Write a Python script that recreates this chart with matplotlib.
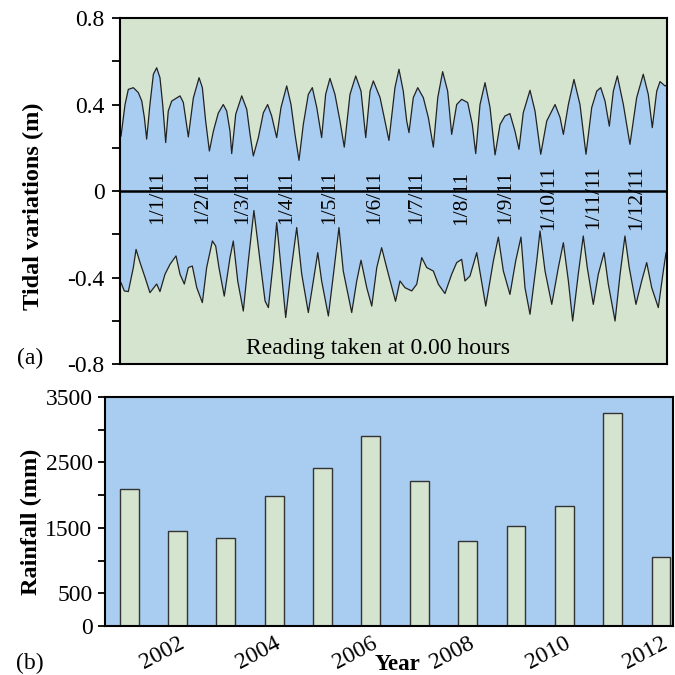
import numpy as np
import matplotlib
matplotlib.use("Agg")
import matplotlib.pyplot as plt
from matplotlib.ticker import FixedLocator

plt.rcParams['font.family'] = ['Liberation Serif', 'DejaVu Serif']
plt.rcParams['axes.unicode_minus'] = False

# ---- (a) tidal record: envelope (day of record, metres)
up_day = [0.7, 3.5, 5.8, 9.3, 12.8, 15.2, 17.0, 18.6, 20.9, 23.3, 25.6, 27.9, 29.8,
          31.9, 33.7, 36.1, 41.9, 44.2, 46.1, 47.7, 51.2, 55.2, 57.5, 59.8, 62.4,
          65.2, 68.6, 72.1, 74.5, 76.8, 78.0, 80.8, 85.0, 88.5, 90.8, 93.1, 96.6,
          100.1, 103.1, 105.9, 109.4, 112.4, 116.4, 119.4, 122.2, 125.0, 128.0, 131.5,
          134.3, 137.4, 140.8, 143.6, 146.6, 150.1, 153.6, 156.6, 160.6, 164.6, 168.3,
          171.6, 174.6, 176.9, 181.6, 185.0, 187.8, 192.0, 194.8, 197.8, 200.2, 201.8,
          204.8, 207.9, 211.8, 215.3, 218.8, 221.9, 225.3, 228.8, 231.6, 235.1, 238.6,
          242.8, 246.0, 248.4, 251.4, 254.9, 258.4, 261.9, 265.4, 268.8, 272.3, 275.8,
          278.6, 281.6, 286.3, 289.8, 293.8, 298.0, 303.8, 307.3, 309.6, 313.1, 317.0,
          321.2, 325.4, 329.4, 332.9, 335.7, 338.7, 341.7, 344.5, 347.3, 351.5, 356.1,
          360.8, 365.4, 368.9, 371.7, 374.8, 377.1, 380.6, 382.0]
up_val = [0.254, 0.40, 0.47, 0.478, 0.455, 0.416, 0.34, 0.24, 0.40, 0.54, 0.57, 0.524, 0.40,
          0.224, 0.37, 0.416, 0.44, 0.41, 0.324, 0.25, 0.43, 0.524, 0.478, 0.324, 0.185,
          0.277, 0.36, 0.40, 0.37, 0.277, 0.173, 0.355, 0.44, 0.378, 0.262, 0.162, 0.247,
          0.362, 0.40, 0.347, 0.247, 0.386, 0.486, 0.40, 0.262, 0.142, 0.308, 0.447,
          0.478, 0.386, 0.247, 0.447, 0.521, 0.447, 0.324, 0.203, 0.447, 0.532, 0.462,
          0.247, 0.462, 0.509, 0.432, 0.324, 0.234, 0.478, 0.563, 0.462, 0.324, 0.27,
          0.432, 0.478, 0.432, 0.34, 0.203, 0.432, 0.552, 0.462, 0.262, 0.40, 0.424,
          0.409, 0.308, 0.173, 0.40, 0.501, 0.386, 0.167, 0.308, 0.347, 0.358, 0.277,
          0.193, 0.362, 0.466, 0.37, 0.17, 0.324, 0.40, 0.34, 0.262, 0.40, 0.516,
          0.40, 0.17, 0.386, 0.462, 0.478, 0.416, 0.30, 0.462, 0.532, 0.40, 0.216,
          0.432, 0.54, 0.447, 0.293, 0.462, 0.506, 0.486, 0.49]

lo_day = [0.7, 3.0, 5.8, 9.3, 11.2, 14.0, 17.5, 20.9, 25.6, 27.9, 31.4, 34.9, 39.1,
          41.9, 44.9, 47.7, 50.5, 53.6, 57.5, 60.5, 64.5, 66.8, 69.1, 72.8, 76.8,
          79.1, 82.2, 86.1, 89.6, 93.5, 97.8, 101.3, 103.6, 107.1, 109.4, 112.4, 115.7,
          119.4, 123.4, 126.9, 131.5, 135.0, 138.1, 140.8, 145.5, 149.6, 152.9, 155.9,
          161.8, 165.3, 168.3, 172.3, 175.8, 179.3, 182.7, 186.2, 192.4, 195.5, 199.0,
          203.7, 207.2, 210.7, 214.2, 218.8, 222.3, 226.9, 231.6, 235.1, 238.6, 240.9,
          244.4, 249.1, 255.4, 260.7, 264.2, 267.7, 272.3, 276.3, 280.0, 282.8, 286.3,
          291.0, 293.3, 296.8, 301.5, 306.1, 309.6, 313.1, 316.1, 320.0, 323.5, 326.3,
          330.5, 334.0, 338.0, 341.0, 345.7, 349.2, 352.6, 355.6, 360.3, 364.3, 367.8,
          371.3, 375.9, 379.4, 381.3, 382.0]
lo_val = [-0.424, -0.462, -0.465, -0.354, -0.27, -0.331, -0.40, -0.47, -0.43, -0.465, -0.385, -0.339, -0.30,
          -0.385, -0.43, -0.354, -0.347, -0.447, -0.516, -0.354, -0.231, -0.254, -0.354, -0.486, -0.308,
          -0.231, -0.416, -0.555, -0.324, -0.09, -0.324, -0.509, -0.539, -0.324, -0.146, -0.354, -0.585,
          -0.37, -0.169, -0.385, -0.562, -0.416, -0.285, -0.416, -0.578, -0.354, -0.169, -0.37,
          -0.562, -0.416, -0.32, -0.447, -0.532, -0.354, -0.262, -0.354, -0.51, -0.416, -0.447,
          -0.462, -0.431, -0.308, -0.354, -0.37, -0.431, -0.474, -0.385, -0.331, -0.316, -0.416,
          -0.393, -0.285, -0.532, -0.324, -0.213, -0.37, -0.478, -0.324, -0.213, -0.447, -0.57,
          -0.324, -0.185, -0.37, -0.524, -0.354, -0.239, -0.416, -0.601, -0.385, -0.208, -0.354,
          -0.524, -0.385, -0.285, -0.431, -0.601, -0.385, -0.208, -0.354, -0.524, -0.416, -0.331,
          -0.447, -0.539, -0.37, -0.285, -0.28]

month_labels = ['1/1/11', '1/2/11', '1/3/11', '1/4/11', '1/5/11', '1/6/11',
                '1/7/11', '1/8/11', '1/9/11', '1/10/11', '1/11/11', '1/12/11']
month_start = [0, 31, 59, 90, 120, 151, 181, 212, 243, 273, 304, 334]
tide_ticks = [0.8, 0.4, 0, -0.4, -0.8]
tide_ticklabels = ['0.8', '0.4', '0', '-0.4', '-0.8']

# ---- (b) annual rainfall
years = [2001, 2002, 2003, 2004, 2005, 2006, 2007, 2008, 2009, 2010, 2011, 2012]
rain = [2100, 1450, 1350, 1990, 2410, 2900, 2210, 1300, 1530, 1830, 3250, 1050]
rain_ticks = [3500, 2500, 1500, 500, 0]
year_ticks = [2002, 2004, 2006, 2008, 2010, 2012]

green = '#d5e4cf'
blue = '#a9cdf1'
day0 = 26.5   # record starts ~26 days before 1 Jan

fig = plt.figure(figsize=(6.75, 6.75), dpi=100)

# top panel
ax = fig.add_axes([0.1778, 0.4607, 0.8104, 0.5126])
ax.set_facecolor(green)
poly_x = np.concatenate([up_day, lo_day[::-1]])
poly_y = np.concatenate([up_val, lo_val[::-1]])
ax.fill(poly_x, poly_y, color=blue, lw=0)
ax.plot(up_day, up_val, color='#222222', lw=0.9)
ax.plot(lo_day, lo_val, color='#222222', lw=0.9)
ax.axhline(0, color='black', lw=1.8)
for lab, d in zip(month_labels, month_start):
    ax.text(day0 + d, -0.03, lab, rotation=90, ha='center', va='center', fontsize=15.5)
ax.text(0.471, 0.046, 'Reading taken at 0.00 hours', transform=ax.transAxes,
        ha='center', va='center', fontsize=17)
ax.set_xlim(0, 382)
ax.set_ylim(-0.8, 0.8)
ax.set_xticks([])
ax.set_yticks(tide_ticks)
ax.set_yticklabels(tide_ticklabels)
ax.yaxis.set_minor_locator(FixedLocator([0.6, 0.2, -0.2, -0.6]))
ax.tick_params(axis='y', which='both', direction='out', length=6, width=1.3,
               labelsize=17, pad=5)
for s in ax.spines.values():
    s.set_linewidth(1.5)

# bottom panel
bx = fig.add_axes([0.1556, 0.0726, 0.8415, 0.3393])
bx.set_facecolor(blue)
bx.bar(years, rain, width=0.39, color=green, edgecolor='#333333', lw=1.0)
bx.set_xlim(2000.5, 2012.25)
bx.set_ylim(0, 3500)
bx.set_yticks(rain_ticks)
bx.yaxis.set_minor_locator(FixedLocator([3000, 2000, 1000]))
bx.tick_params(axis='y', which='both', direction='out', length=5, width=1.3,
               labelsize=17, pad=4)
bx.set_xticks(year_ticks)
bx.set_xticklabels([str(y) for y in year_ticks], rotation=28, ha='right',
                   va='top', rotation_mode='anchor')
bx.tick_params(axis='x', length=0, labelsize=17, pad=5)
for s in bx.spines.values():
    s.set_linewidth(1.5)

fig.text(0.050, 0.695, 'Tidal variations (m)', rotation=90, ha='center', va='center',
         fontsize=17.5, fontweight='bold')
fig.text(0.046, 0.227, 'Rainfall (mm)', rotation=90, ha='center', va='center',
         fontsize=17.5, fontweight='bold')
fig.text(397 / 675, 1 - 665 / 675, 'Year', ha='center', va='center',
         fontsize=16.5, fontweight='bold')
fig.text(0.044, 1 - 358 / 675, '(a)', ha='center', va='center', fontsize=17)
fig.text(0.044, 1 - 663 / 675, '(b)', ha='center', va='center', fontsize=17)

fig.savefig('out.png', dpi=100)
